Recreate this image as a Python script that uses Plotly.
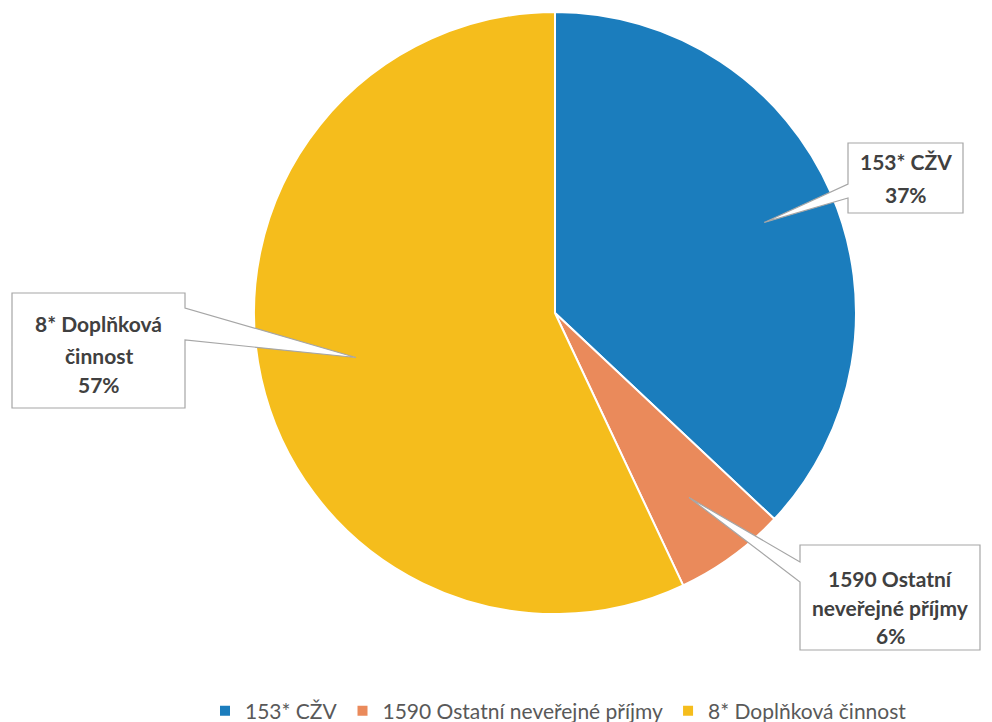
import math
import plotly.graph_objects as go

# Data
labels = ["153* CŽV", "1590 Ostatní neveřejné příjmy", "8* Doplňková činnost"]
values = [37, 6, 57]
colors = ["#1b7dbd", "#ea8a5b", "#f5bd1c"]
callout_lines = [["153* CŽV"], ["1590 Ostatní", "neveřejné příjmy"], ["8* Doplňková", "činnost"]]

W, H = 992, 722
FONT = "Lato, 'Open Sans', sans-serif"

# pie placement (pixels)
cx, cy, r = 555, 313, 300
r_dom = 301


def px(x):
    return x / W


def py(y):
    return 1 - y / H


fig = go.Figure(
    go.Pie(
        labels=labels,
        values=values,
        marker=dict(colors=colors, line=dict(color="white", width=2)),
        sort=False,
        direction="clockwise",
        rotation=0,
        textinfo="none",
        hoverinfo="label+percent",
        domain=dict(x=[px(cx - r_dom), px(cx + r_dom)], y=[py(cy + r_dom), py(cy - r_dom)]),
    )
)

# callout boxes: (x0, x1, y0, y1), side of wedge, wedge base (b1, b2), tip radius factor, line y's
boxes = [
    dict(box=(848, 963, 143, 213), side="left", base=(184, 198), k=0.76, ys=[162, 195]),
    dict(box=(800, 980, 545, 650), side="left", base=(562, 582), k=0.76, ys=[578, 607, 635]),
    dict(box=(12, 185, 293, 408), side="right", base=(308, 340), k=0.68, ys=[324, 355, 384]),
]

total = sum(values)
cum = 0
shapes = []
annotations = []
for i, v in enumerate(values):
    mid = (cum + v / 2) / total * 2 * math.pi
    cum += v
    b = boxes[i]
    tx = cx + b["k"] * r * math.sin(mid)
    ty = cy - b["k"] * r * math.cos(mid)
    x0, x1, y0, y1 = b["box"]
    b1, b2 = b["base"]
    if b["side"] == "left":
        pts = [(x0, y0), (x1, y0), (x1, y1), (x0, y1), (x0, b2), (tx, ty), (x0, b1)]
    else:
        pts = [(x0, y0), (x1, y0), (x1, b1), (tx, ty), (x1, b2), (x1, y1), (x0, y1)]
    path = "M " + " L ".join(f"{px(a):.5f},{py(c):.5f}" for a, c in pts) + " Z"
    shapes.append(dict(type="path", path=path, xref="paper", yref="paper",
                       fillcolor="white", line=dict(color="#a6a6a6", width=1.2), layer="above"))
    pct = f"{round(v / total * 100)}%"
    lines = callout_lines[i] + [pct]
    xc = (x0 + x1) / 2
    for text, yline in zip(lines, b["ys"]):
        annotations.append(dict(text=f"<b>{text}</b>", x=px(xc), y=py(yline), xref="paper", yref="paper",
                                showarrow=False, xanchor="center", yanchor="middle",
                                font=dict(family=FONT, size=21, color="#404040")))

fig.update_layout(
    width=W,
    height=H,
    margin=dict(l=0, r=0, t=0, b=0, autoexpand=False),
    paper_bgcolor="white",
    plot_bgcolor="white",
    shapes=shapes,
    annotations=annotations,
    showlegend=True,
    legend=dict(
        orientation="h",
        x=0.563,
        xanchor="center",
        y=py(711),
        yanchor="middle",
        font=dict(family=FONT, size=21, color="#595959"),
        itemclick=False,
    ),
)

# drop the default 8px body margin so the figure fills the window
fig.write_html("out.html", config={"displayModeBar": False},
               post_script="document.body.style.margin='0';")
